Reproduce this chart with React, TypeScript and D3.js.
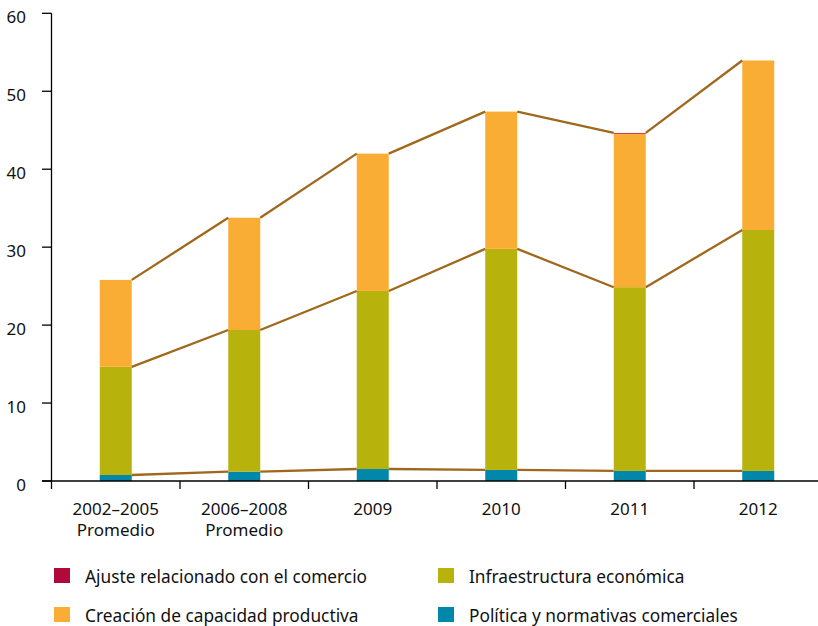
import React from "react";
import * as d3 from "d3";

const categories = ["2002–2005\nPromedio", "2006–2008\nPromedio", "2009", "2010", "2011", "2012"];
const policy = [0.77, 1.2, 1.54, 1.42, 1.29, 1.29];
const infrastructure = [13.88, 18.17, 22.84, 28.36, 23.57, 30.91];
const capacity = [11.15, 14.4, 17.62, 17.61, 19.69, 21.75];
const tradeAdjustment = [0.0, 0.0, 0.0, 0.0, 0.1, 0.0];
const yTicks = [0, 10, 20, 30, 40, 50, 60];

const seriesNames = ["policy", "infrastructure", "capacity", "trade"];
const seriesColors: Record<string, string> = {
  policy: "#0087A9",
  infrastructure: "#B7B20C",
  capacity: "#F9AD34",
  trade: "#B0093B",
};
const legendItems = [
  { key: "trade", label: "Ajuste relacionado con el comercio" },
  { key: "infrastructure", label: "Infraestructura económica" },
  { key: "capacity", label: "Creación de capacidad productiva" },
  { key: "policy", label: "Política y normativas comerciales" },
];

const W = 818;
const H = 626;
const FONT = "'Noto Sans', sans-serif";
const lineColor = "#A0681D";

export default function App() {
  const x = d3.scaleBand<string>().domain(categories).range([51.5, 822.5]).paddingInner(0).paddingOuter(0);
  const y = d3.scaleLinear().domain([0, 60]).range([481, 13.3]);
  const barW = 32;

  const rows = categories.map((c, i) => ({
    cat: c,
    policy: policy[i],
    infrastructure: infrastructure[i],
    capacity: capacity[i],
    trade: tradeAdjustment[i],
  }));
  const stack = d3.stack<any>().keys(seriesNames);
  const stacked = stack(rows);

  const barX = (c: string) => (x(c) as number) + x.bandwidth() / 2 - barW / 2;

  // series lines: policy top, infrastructure top, total top
  const lineLayers = [stacked[0], stacked[1], stacked[3]];

  return (
    <svg width={W} height={H} style={{ position: "absolute", left: 0, top: 0, fontFamily: FONT }}>
      {stacked.map((layer) => (
        <g key={layer.key} fill={seriesColors[layer.key]}>
          {layer.map((d, i) => {
            const y0 = y(d[0]);
            const y1 = y(d[1]);
            const h = y0 - y1;
            if (h <= 0) return null;
            return <rect key={i} x={barX(categories[i])} y={y1} width={barW} height={h} />;
          })}
        </g>
      ))}
      {lineLayers.map((layer, li) => (
        <g key={li} stroke={lineColor} strokeWidth={2.3} fill="none">
          {layer.slice(0, -1).map((d, i) => {
            const next = layer[i + 1];
            const x1 = barX(categories[i]) + barW;
            const x2 = barX(categories[i + 1]);
            return <line key={i} x1={x1} y1={y(d[1])} x2={x2} y2={y(next[1])} />;
          })}
        </g>
      ))}
      <line x1={51.5} y1={13.3} x2={51.5} y2={489} stroke="#000" strokeWidth={1.3} />
      {yTicks.map((t) => (
        <g key={t}>
          <line x1={42} x2={51.5} y1={y(t)} y2={y(t)} stroke="#000" strokeWidth={1.3} />
          <text x={26} y={y(t) + 10} textAnchor="end" fontSize={17} fill="#111">
            {t}
          </text>
        </g>
      ))}
      <line x1={42} x2={818} y1={481} y2={481} stroke="#000" strokeWidth={1.3} />
      {categories.map((c, i) => (
        <g key={c}>
          {i > 0 && (
            <line x1={x(c) as number} x2={x(c) as number} y1={481} y2={489} stroke="#000" strokeWidth={1.3} />
          )}
          {c.split("\n").map((ln, j) => (
            <text
              key={j}
              x={(x(c) as number) + x.bandwidth() / 2}
              y={514.5 + j * 21}
              textAnchor="middle"
              fontSize={17}
              fill="#111"
            >
              {ln}
            </text>
          ))}
        </g>
      ))}
      {legendItems.map((it, i) => {
        const col = i % 2;
        const row = Math.floor(i / 2);
        const lx = col === 0 ? 54 : 438;
        const ly = 568 + row * 39;
        return (
          <g key={it.key}>
            <rect x={lx} y={ly} width={16} height={15} fill={seriesColors[it.key]} />
            <text x={lx + 31} y={ly + 14.5} fontSize={17.3} fill="#111">
              {it.label}
            </text>
          </g>
        );
      })}
    </svg>
  );
}
